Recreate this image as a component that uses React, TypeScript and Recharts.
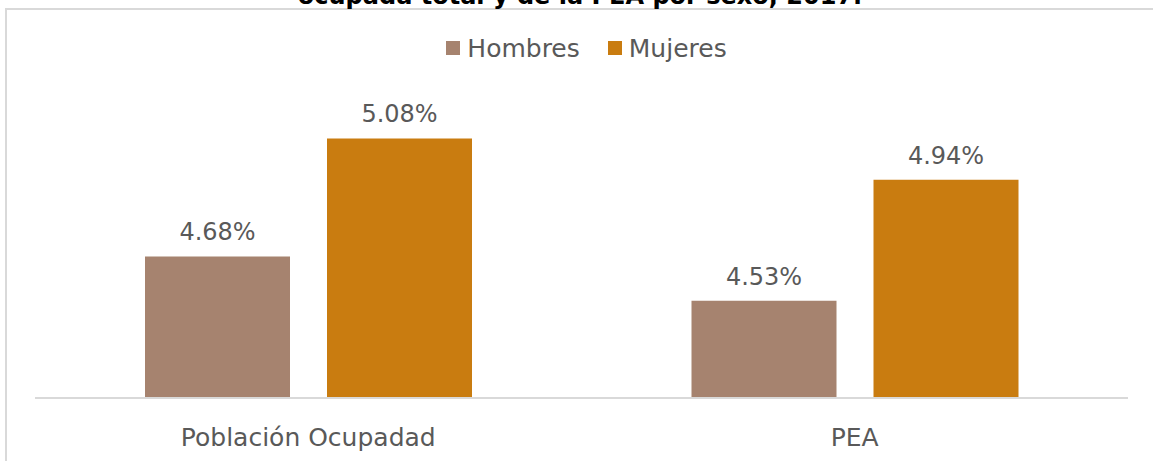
import React from 'react';
import { BarChart, Bar, XAxis, YAxis, Legend, LabelList } from 'recharts';

const categories = ['Población Ocupadad', 'PEA'];
const hombres = [4.68, 4.53];
const mujeres = [5.08, 4.94];
const seriesNames = ['Hombres', 'Mujeres'];
const seriesColors = ['#A6836F', '#C97C10'];

const data = categories.map((name, i) => ({
  name,
  Hombres: hombres[i],
  Mujeres: mujeres[i],
}));

const FONT = '"DejaVu Sans", sans-serif';
const TEXT_COLOR = '#595959';

const fmt = (v: any) => `${Number(v).toFixed(2)}%`;

const renderLegend = () => (
  <div
    style={{
      display: 'flex',
      justifyContent: 'center',
      alignItems: 'center',
      height: 30,
      fontFamily: FONT,
      fontSize: 25,
      color: TEXT_COLOR,
      paddingLeft: 20,
    }}
  >
    {seriesNames.map((s, i) => (
      <div key={s} style={{ display: 'flex', alignItems: 'center', marginRight: i === 0 ? 28 : 0 }}>
        <span style={{ width: 14, height: 14, background: seriesColors[i], marginRight: 7, display: 'inline-block' }} />
        <span>{s}</span>
      </div>
    ))}
  </div>
);

const App: React.FC = () => {
  return (
    <div style={{ position: 'absolute', left: 0, top: 0, width: 1153, height: 461, overflow: 'hidden', background: '#fff' }}>
      <div
        style={{
          position: 'absolute',
          left: 5,
          top: 8,
          width: 1200,
          height: 500,
          borderTop: '2px solid #d9d9d9',
          borderLeft: '2px solid #d9d9d9',
        }}
      />
      <svg width={1153} height={20} style={{ position: 'absolute', left: 0, top: 0 }}>
        <text x={580} y={4} textAnchor="middle" fontFamily={FONT} fontWeight="bold" fontSize={24} fill="#000">
          ocupada total y de la PEA por sexo, 2017.
        </text>
      </svg>
      <div style={{ position: 'absolute', left: 0, top: 0 }}>
        <BarChart
          width={1153}
          height={461}
          data={data}
          margin={{ top: 73, right: 25, left: 35, bottom: 23 }}
          barGap={37}
        >
          <XAxis
            dataKey="name"
            height={40}
            axisLine={{ stroke: '#d9d9d9', strokeWidth: 2 }}
            tickLine={false}
            tickMargin={24}
            tick={{ fill: TEXT_COLOR, fontSize: 25, fontFamily: FONT }}
          />
          <YAxis hide domain={[4.2, 5.2]} />
          <Legend verticalAlign="top" content={renderLegend} wrapperStyle={{ top: 33, left: 0, width: 1153 }} />
          {seriesNames.map((s, i) => (
            <Bar key={s} dataKey={s} fill={seriesColors[i]} barSize={145} isAnimationActive={false}>
              <LabelList
                dataKey={s}
                position="top"
                offset={16}
                formatter={fmt}
                fill={TEXT_COLOR}
                fontSize={24}
                fontFamily={FONT}
              />
            </Bar>
          ))}
        </BarChart>
      </div>
    </div>
  );
};

export default App;
